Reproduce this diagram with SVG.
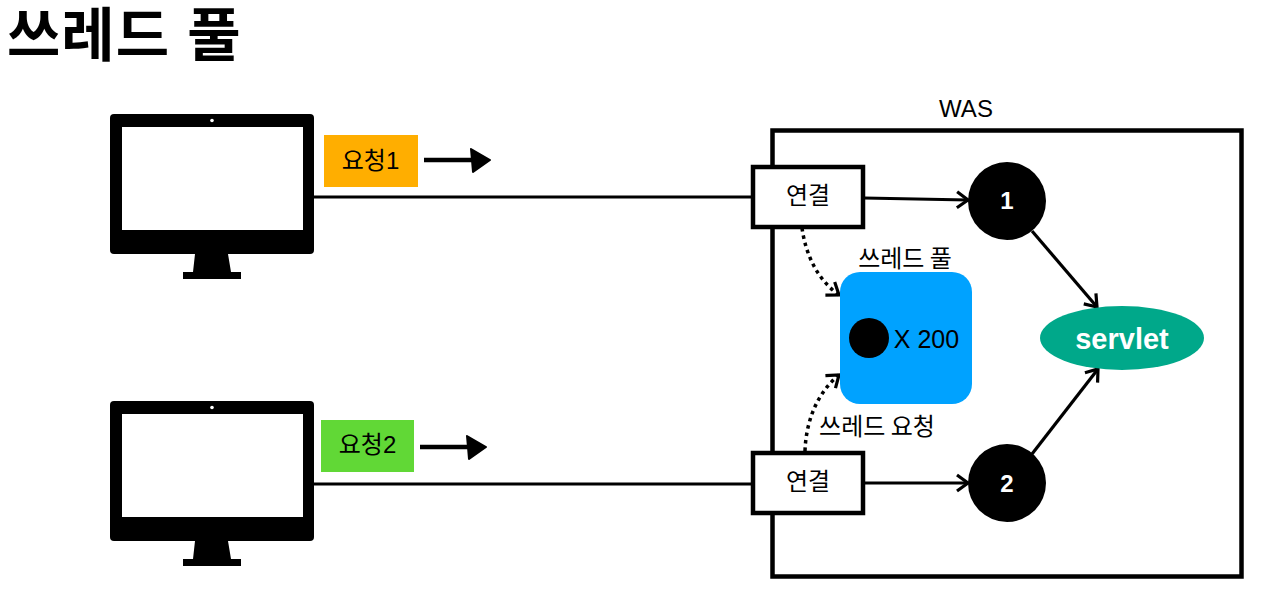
<svg xmlns="http://www.w3.org/2000/svg" width="1269" height="600" viewBox="0 0 1269 600">
<style>
text{font-family:"Noto Sans CJK KR","Liberation Sans",sans-serif;fill:#000}
.t{font-family:"Liberation Sans","Noto Sans CJK KR",sans-serif;font-size:58px;font-weight:700}
.l{font-family:"Liberation Sans","Noto Sans CJK KR",sans-serif;font-size:24px;text-anchor:middle}
.c{font-size:24px;text-anchor:middle}
.e{font-family:"Liberation Sans",sans-serif}
.line{fill:none;stroke:#000;stroke-width:3.2}
.dot{fill:none;stroke:#000;stroke-width:3.5;stroke-dasharray:3.5 4}
.box{fill:#fff;stroke:#000;stroke-width:4.5}
.circ{fill:#000}
.n{font-family:"Liberation Sans",sans-serif;font-size:24px;font-weight:bold;fill:#fff;text-anchor:middle}
.sk{fill:#000;stroke:#000;stroke-width:2;stroke-linejoin:round}
.shaft{fill:none;stroke:#000;stroke-width:4.500}
</style>
<defs>
<marker id="a" markerUnits="userSpaceOnUse" markerWidth="18" markerHeight="20" refX="14" refY="8" orient="auto" overflow="visible"><path d="M3 0L14 8L3 16" fill="none" stroke="#000" stroke-width="3.2"/></marker>
<g id="mon">
<rect x="110" y="114" width="204" height="140" rx="4" fill="#000"/>
<rect x="122" y="127" width="181" height="103" fill="#fff"/>
<circle cx="212" cy="120.500" r="1.800" fill="#fff"/>
<path d="M195 254H228L231 272H241V279H183V272H193Z" fill="#000"/>
</g>
</defs>
<text class="t" x="7" y="56" style="letter-spacing:1px">쓰레드 풀</text>
<g id="client1"><use href="#mon"/></g>
<g id="client2"><use href="#mon" y="287"/></g>
<g id="req1"><rect x="324" y="135" width="94" height="52" fill="#ffae00"/><text class="l" x="370.500" y="169">요청1</text>
<path class="shaft" d="M424 160H472"/><path class="sk" d="M471 149L490 160L473 172L472 160Z"/></g>
<g id="req2"><rect x="321" y="420" width="93" height="52" fill="#61d836"/><text class="l" x="367.500" y="453">요청2</text>
<path class="shaft" d="M420 447H468"/><path class="sk" d="M467 436L486 447L469 459L468 447Z"/></g>
<g id="was"><rect x="772.500" y="130.500" width="469" height="446" fill="none" stroke="#000" stroke-width="4.500"/><text class="e" x="966" y="117" font-size="24" text-anchor="middle">WAS</text></g>
<g id="connectors">
<path class="line" d="M314 197H753"/>
<path class="line" d="M314 484H753"/>
<path class="line" d="M864 198L968 200" marker-end="url(#a)"/>
<path class="line" d="M864 483H968" marker-end="url(#a)"/>
<path class="line" d="M1032 231L1097 307" marker-end="url(#a)"/>
<path class="line" d="M1032 454L1098 369" marker-end="url(#a)"/>
<path class="dot" d="M802 228C806 256 818 280 839 295" marker-end="url(#a)"/>
<path class="dot" d="M805 451C806 420 818 392 839 375" marker-end="url(#a)"/>
</g>
<g id="conn1"><rect class="box" x="753" y="167" width="110" height="60"/><text class="c" x="808" y="204">연결</text></g>
<g id="conn2"><rect class="box" x="753" y="453" width="110" height="60"/><text class="c" x="808" y="490">연결</text></g>
<g id="pool"><rect x="840" y="272" width="132" height="132" rx="20" fill="#00a2ff"/><circle class="circ" cx="869" cy="338" r="20"/><text class="e" x="926.500" y="348" font-size="25" text-anchor="middle">X 200</text><text class="c" x="905" y="267">쓰레드 풀</text></g>
<text class="c" x="877" y="435">쓰레드 요청</text>
<g id="t1"><circle class="circ" cx="1007" cy="201" r="39"/><text class="n" x="1007" y="209">1</text></g>
<g id="t2"><circle class="circ" cx="1007" cy="483" r="39"/><text class="n" x="1007" y="492">2</text></g>
<g id="servlet"><ellipse cx="1122" cy="338" rx="82" ry="32" fill="#00a88a"/><text class="e" x="1122" y="349" font-size="29" font-weight="700" text-anchor="middle" style="fill:#fff">servlet</text></g>
</svg>
